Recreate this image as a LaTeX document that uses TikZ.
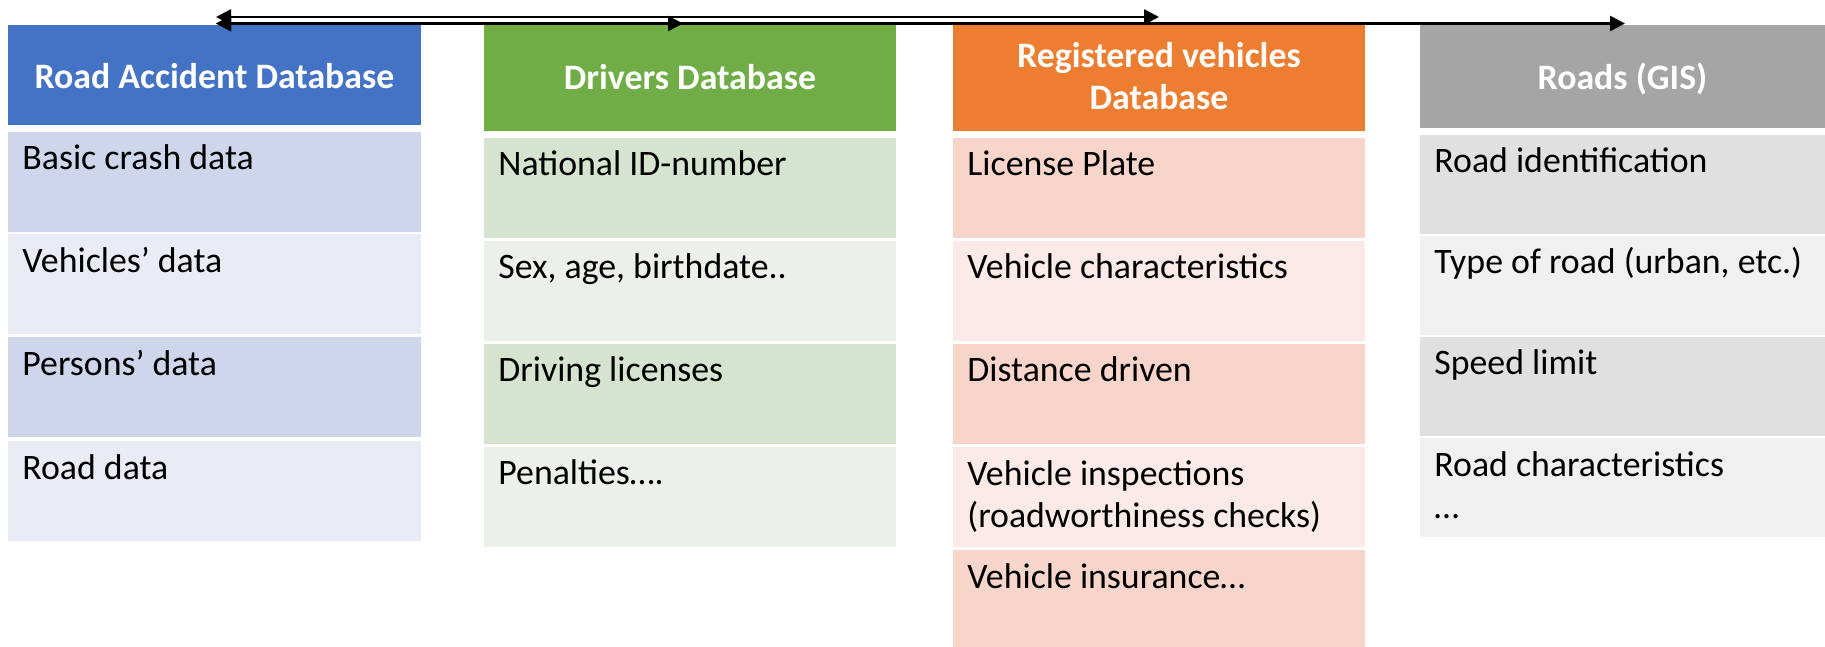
\documentclass[tikz,border=0pt]{standalone}
\usepackage{fontspec}
\setmainfont{Carlito}
\usetikzlibrary{arrows.meta}
\definecolor{bHead}{HTML}{4472C4}
\definecolor{bDark}{HTML}{CFD5EA}
\definecolor{bLight}{HTML}{E9EBF5}
\definecolor{gHead}{HTML}{70AD47}
\definecolor{gDark}{HTML}{D5E3CF}
\definecolor{gLight}{HTML}{EBF1E9}
\definecolor{oHead}{HTML}{ED7D31}
\definecolor{oDark}{HTML}{F8D5CB}
\definecolor{oLight}{HTML}{FBEAE7}
\definecolor{rHead}{HTML}{A5A5A5}
\definecolor{rDark}{HTML}{E0E0E0}
\definecolor{rLight}{HTML}{F0F0F0}
\begin{document}
\begin{tikzpicture}[x=0.5pt,y=-0.5pt,
  box/.style={draw=none, inner sep=0pt, outer sep=0pt, anchor=north west},
  wA/.style={minimum width=206.5pt},
  wB/.style={minimum width=206pt},
  wR/.style={minimum width=202.5pt},
  rowh/.style={minimum height=50pt},
  txt/.style={anchor=base west, inner sep=0pt, font=\fontsize{17.9pt}{21pt}\selectfont, text=black, align=left},
  htxt/.style={anchor=base, inner sep=0pt, font=\fontsize{17.9pt}{21pt}\selectfont\bfseries, text=white, align=center},
  link/.style={{Triangle[length=7.5pt,width=7.5pt]}-{Triangle[length=7.5pt,width=7.5pt]}, line width=1.25pt, black}
]
\useasboundingbox (0,0) rectangle (1825,647);

% ---- Road Accident Database (blue)
\node[box, wA, minimum height=50pt, fill=bHead] (bH) at (8,25) {};
\node[htxt] (bHt) at (214.5,88.5) {Road Accident Database};
\node[box, wA, rowh, fill=bDark]  (b1) at (8,132) {};
\node[box, wA, rowh, fill=bLight] (b2) at (8,234) {};
\node[box, wA, rowh, fill=bDark]  (b3) at (8,337) {};
\node[box, wA, rowh, fill=bLight] (b4) at (8,441) {};
\node[txt] (b1t) at (22,169.5) {Basic crash data};
\node[txt] (b2t) at (22,272) {Vehicles’ data};
\node[txt] (b3t) at (22,375) {Persons’ data};
\node[txt] (b4t) at (22,479) {Road data};

% ---- Drivers Database (green)
\node[box, wB, minimum height=53pt, fill=gHead] (gH) at (484,25) {};
\node[htxt] (gHt) at (690,90) {Drivers Database};
\node[box, wB, rowh, fill=gDark]  (g1) at (484,138) {};
\node[box, wB, rowh, fill=gLight] (g2) at (484,241) {};
\node[box, wB, rowh, fill=gDark]  (g3) at (484,344) {};
\node[box, wB, rowh, fill=gLight] (g4) at (484,447) {};
\node[txt] (g1t) at (498,175.5) {National ID-number};
\node[txt] (g2t) at (498,278.5) {Sex, age, birthdate..};
\node[txt] (g3t) at (498,381.5) {Driving licenses};
\node[txt] (g4t) at (498,484.5) {Penalties….};

% ---- Registered vehicles Database (orange)
\node[box, wB, minimum height=53pt, fill=oHead] (oH) at (953,25) {};
\node[htxt] (oHt) at (1159,109.5) {Registered vehicles\\Database};
\node[box, wB, rowh, fill=oDark]  (o1) at (953,138) {};
\node[box, wB, rowh, fill=oLight] (o2) at (953,241) {};
\node[box, wB, rowh, fill=oDark]  (o3) at (953,344) {};
\node[box, wB, rowh, fill=oLight] (o4) at (953,447) {};
\node[box, wB, minimum height=48.5pt, fill=oDark] (o5) at (953,550) {};
\node[txt] (o1t) at (967,175.5) {License Plate};
\node[txt] (o2t) at (967,278.5) {Vehicle characteristics};
\node[txt] (o3t) at (967,381.5) {Distance driven};
\node[txt] (o4t) at (967,527.5) {Vehicle inspections\\(roadworthiness checks)};
\node[txt] (o5t) at (967,588) {Vehicle insurance…};

% ---- Roads (GIS) (gray)
\node[box, wR, minimum height=51.75pt, fill=rHead] (rH) at (1420,25) {};
\node[htxt] (rHt) at (1622.5,89.5) {Roads (GIS)};
\node[box, wR, minimum height=49.5pt, fill=rDark]  (r1) at (1420,135) {};
\node[box, wR, minimum height=49.5pt, fill=rLight] (r2) at (1420,236) {};
\node[box, wR, minimum height=49.5pt, fill=rDark]  (r3) at (1420,337) {};
\node[box, wR, minimum height=49.5pt, fill=rLight] (r4) at (1420,438) {};
\node[txt] (r1t) at (1434,172.5) {Road identification};
\node[txt] (r2t) at (1434,273.5) {Type of road (urban, etc.)};
\node[txt] (r3t) at (1434,374.5) {Speed limit};
\node[txt] (r4t) at (1434,518.5) {Road characteristics\\…};

% ---- connecting arrows
\coordinate (lA) at (216,23.5);
\coordinate (lB) at (216,17);
\coordinate (tD) at (683,23.5);
\coordinate (tV) at (1159,17);
\coordinate (tR) at (1625,23.5);
\draw[link] (lA) -- (tD);
\draw[link] (lA) -- (tR);
\draw[link] (lB) -- (tV);
\end{tikzpicture}
\end{document}
